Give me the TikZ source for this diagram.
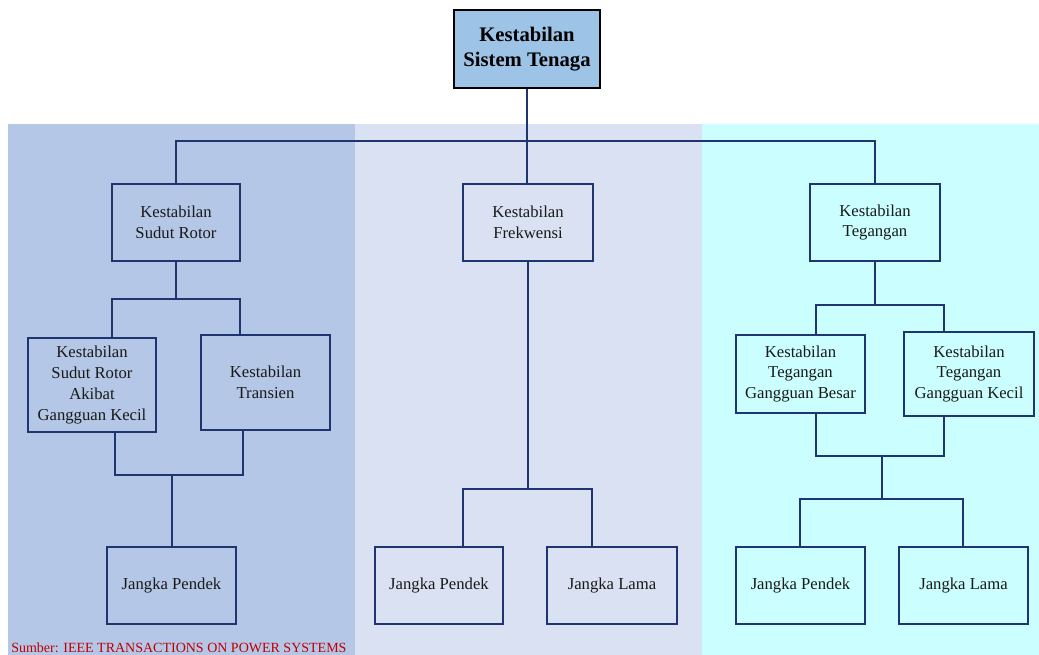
\documentclass[tikz,border=0pt]{standalone}
\usepackage{fontspec}
\setmainfont{Liberation Serif}
\begin{document}
\begin{tikzpicture}[x=0.75pt,y=-0.75pt,
  conn/.style={draw=navyline,line width=1.4pt},
  box/.style={draw=navyline,line width=1.4pt,rectangle,align=center,inner sep=1pt,
    font=\fontsize{12.5}{15.7}\selectfont,text=black!90},
  topbox/.style={draw=black,line width=1.6pt,fill=topfill,rectangle,align=center,inner sep=1pt,
    font=\fontsize{15.5}{19}\selectfont\bfseries},
  src/.style={font=\fontsize{10.5}{12}\selectfont,text=srcred,anchor=base west,inner sep=0pt}]
\definecolor{navyline}{HTML}{1F3570}
\definecolor{topfill}{HTML}{9DC3E6}
\definecolor{pa}{HTML}{B4C7E7}
\definecolor{pb}{HTML}{DAE1F3}
\definecolor{pc}{HTML}{CBFFFF}
\definecolor{srcred}{HTML}{C00000}
\useasboundingbox (0,0) rectangle (1039,655);
\fill[white] (0,0) rectangle (1039,655);
\fill[pa] (8,124) rectangle (355,655);
\fill[pb] (355,124) rectangle (702,655);
\fill[pc] (702,124) rectangle (1039,655);
% nodes
\node[topbox,minimum width=109.5pt,minimum height=58.5pt] (A) at (527,49) {Kestabilan\\Sistem Tenaga};
\node[box,minimum width=96pt,minimum height=57.75pt] (B1) at (176,222.5) {Kestabilan\\Sudut Rotor};
\node[box,minimum width=97.5pt,minimum height=57.75pt] (B2) at (528,222.5) {Kestabilan\\Frekwensi};
\node[box,minimum width=97.5pt,minimum height=57.75pt] (B3) at (875,222.5) {Kestabilan\\Tegangan};
\node[box,minimum width=96pt,minimum height=70.5pt] (C1) at (92,385) {Kestabilan\\Sudut Rotor\\Akibat\\Gangguan Kecil};
\node[box,minimum width=96.75pt,minimum height=71.25pt] (C2) at (265.5,382.5) {Kestabilan\\Transien};
\node[box,minimum width=96.75pt,minimum height=57.75pt] (D1) at (171.5,585.5) {Jangka Pendek};
\node[box,minimum width=96pt,minimum height=57.75pt] (E1) at (439,585.5) {Jangka Pendek};
\node[box,minimum width=97.5pt,minimum height=57.75pt] (E2) at (612,585.5) {Jangka Lama};
\node[box,minimum width=96.75pt,minimum height=58.5pt] (F1) at (800.5,374) {Kestabilan\\Tegangan\\Gangguan Besar};
\node[box,minimum width=97.5pt,minimum height=63pt] (F2) at (969,374) {Kestabilan\\Tegangan\\Gangguan Kecil};
\node[box,minimum width=96.75pt,minimum height=57.75pt] (G1) at (800.5,585.5) {Jangka Pendek};
\node[box,minimum width=96.75pt,minimum height=57.75pt] (G2) at (963.5,585.5) {Jangka Lama};
% connectors
\coordinate (j0) at (527,141);
\draw[conn] (A.south) -- (j0);
\draw[conn] (B1.north) |- (j0) -| (B3.north);
\draw[conn] (j0) -- (B2.north -| j0);
\coordinate (j1) at (176,299);
\draw[conn] (B1.south) -- (j1);
\draw[conn] (C1.north -| 112,0) |- (j1) -| (C2.north -| 240,0);
\coordinate (j1b) at (172,475);
\draw[conn] (C1.south -| 115,0) |- (j1b) -| (C2.south -| 243,0);
\draw[conn] (j1b) -- (D1.north -| j1b);
\coordinate (j2) at (528,489);
\draw[conn] (B2.south) -- (j2);
\draw[conn] (E1.north -| 463,0) |- (j2) -| (E2.north -| 592,0);
\coordinate (j3) at (875,305);
\draw[conn] (B3.south) -- (j3);
\draw[conn] (F1.north -| 816,0) |- (j3) -| (F2.north -| 944,0);
\coordinate (j3b) at (882,456);
\coordinate (j3c) at (882,499);
\draw[conn] (F1.south -| 816,0) |- (j3b) -| (F2.south -| 944,0);
\draw[conn] (j3b) -- (j3c);
\draw[conn] (G1.north -| 800,0) |- (j3c) -| (G2.north -| 963,0);
\node[src] (S) at (11,652) {Sumber: IEEE TRANSACTIONS ON POWER SYSTEMS};
\end{tikzpicture}
\end{document}
